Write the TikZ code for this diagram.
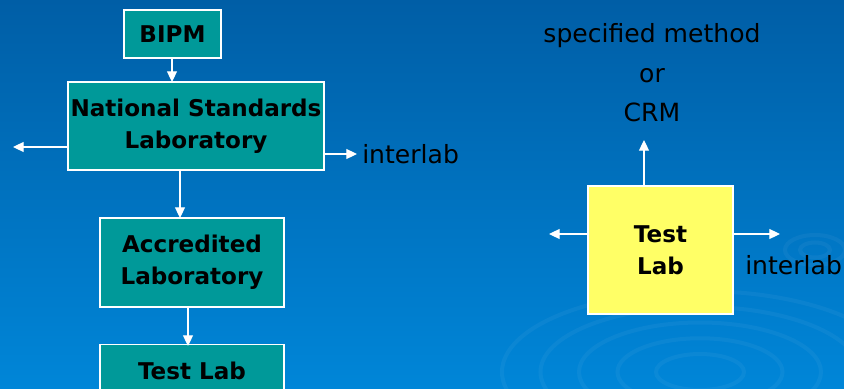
\documentclass[tikz,border=0pt]{standalone}
\usepackage{fontspec}
\setmainfont{DejaVu Sans}
\usetikzlibrary{arrows.meta,shapes.geometric}
\definecolor{bgtop}{RGB}{0,94,166}
\definecolor{bgbot}{RGB}{0,134,216}
\definecolor{tealbox}{RGB}{0,153,153}
\definecolor{yelbox}{RGB}{255,255,102}
\tikzset{
  box/.style={draw=white, line width=0.9pt, fill=tealbox, align=center, inner sep=0pt,
    font=\fontsize{17.3}{24}\selectfont\bfseries},
  ybox/.style={box, fill=yelbox},
  lbl/.style={inner sep=0pt, font=\fontsize{18.8}{29.6}\selectfont, align=center},
  conn/.style={draw=white, line width=0.8pt, -{Triangle[width=7.5pt,length=8pt]}},
  ring/.style={draw=white, draw opacity=0.045, line width=3pt}
}
\begin{document}
\begin{tikzpicture}[x=0.75pt,y=-0.75pt]
\shade[top color=bgtop, bottom color=bgbot] (0,0) rectangle (844,389);
\useasboundingbox (0,0) rectangle (844,389);
% faint ripples
\foreach \r in {40,75,110,145,180}{
  \draw[ring] (700,372) ellipse ({\r*1.1} and {\r*0.45});
}
\foreach \r in {15,30}{
  \draw[ring] (815,250) ellipse ({\r} and {\r*0.5});
}
% left chain
\node[box, minimum width=72.75pt, minimum height=36pt] (bipm) at (172.5,34) {BIPM};
\node[box, minimum width=192pt, minimum height=66pt] (nsl) at (196,126) {National Standards\\Laboratory};
\node[box, minimum width=138pt, minimum height=66.75pt] (acc) at (192,262.5) {Accredited\\Laboratory};
\node[box, minimum width=138pt, minimum height=40pt] (tl) at (192,371) {Test Lab};
\coordinate (nslL) at (13,147);
\coordinate (nslR) at (357,154);
\node[lbl, anchor=west] (il1) at (362,154) {interlab};
\draw[conn] (172,58) -- (172,82);
\draw[conn] (nsl.west |- nslL) -- (nslL);
\draw[conn] (nsl.east |- nslR) -- (nslR);
\draw[conn] (180,170) -- (180,218);
\draw[conn] (188,307) -- (188,346);
% right
\node[ybox, minimum width=108.75pt, minimum height=96pt] (ytl) at (660.5,250) {Test\\Lab};
\node[lbl] (spec) at (652,73) {specified method\\or\\CRM};
\coordinate (upend) at (644,140);
\coordinate (yL) at (549,234);
\coordinate (yR) at (780,234);
\node[lbl, anchor=west] (il2) at (745,265) {interlab};
\draw[conn] (ytl.north -| upend) -- (upend);
\draw[conn] (ytl.west |- yL) -- (yL);
\draw[conn] (ytl.east |- yR) -- (yR);
\end{tikzpicture}
\end{document}
